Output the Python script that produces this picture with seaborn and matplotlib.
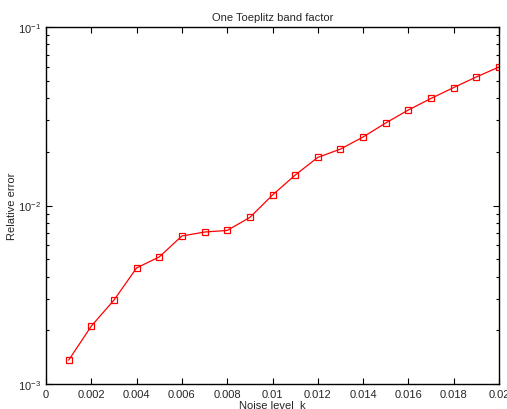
import numpy as np
import pandas as pd
import seaborn as sns
import matplotlib
matplotlib.use('Agg')
import matplotlib.pyplot as plt
from matplotlib.ticker import LogLocator, NullFormatter

# noise level k and the relative error
noise = [0.001, 0.002, 0.003, 0.004, 0.005, 0.006, 0.007, 0.008, 0.009, 0.010,
         0.011, 0.012, 0.013, 0.014, 0.015, 0.016, 0.017, 0.018, 0.019, 0.020]
rel_err = [1.36e-3, 2.11e-3, 2.95e-3, 4.47e-3, 5.15e-3, 6.75e-3, 7.10e-3, 7.25e-3,
           8.57e-3, 1.145e-2, 1.48e-2, 1.86e-2, 2.07e-2, 2.42e-2, 2.90e-2, 3.43e-2,
           3.98e-2, 4.58e-2, 5.25e-2, 5.97e-2]
xticks = [0, 0.002, 0.004, 0.006, 0.008, 0.01, 0.012, 0.014, 0.016, 0.018, 0.02]

df = pd.DataFrame({'k': noise, 'err': rel_err})

sns.set_style('ticks')
plt.rcParams['font.family'] = ['Liberation Sans', 'DejaVu Sans']
plt.rcParams['mathtext.fontset'] = 'custom'
plt.rcParams['mathtext.rm'] = 'Liberation Sans'
plt.rcParams['mathtext.it'] = 'Liberation Sans:italic'

fig = plt.figure(figsize=(5.07, 4.10), dpi=100)
ax = fig.add_axes([46 / 507, 25 / 410, 453 / 507, 357 / 410])

sns.lineplot(data=df, x='k', y='err', ax=ax, color='red', linewidth=0.9,
             marker='s', markersize=5, markerfacecolor='none',
             markeredgecolor='red', markeredgewidth=0.9)

ax.set_yscale('log')
ax.set_ylim(1e-3, 1e-1)
ax.set_xlim(0, 0.02)
ax.set_xticks(xticks)
ax.set_xticklabels(['%g' % t for t in xticks])
ax.yaxis.set_minor_locator(LogLocator(base=10, subs=np.arange(2, 10)))
ax.yaxis.set_minor_formatter(NullFormatter())

for s in ax.spines.values():
    s.set_linewidth(1.0)
    s.set_color('black')
ax.tick_params(which='both', direction='in', top=True, right=True,
               labelsize=8, color='black', width=0.8)
ax.tick_params(which='major', length=4)
ax.tick_params(which='minor', length=2.5)

ax.set_title('One Toeplitz band factor', fontsize=8, pad=5)
ax.set_xlabel('Noise level  k', fontsize=8, labelpad=1)
ax.set_ylabel('Relative error', fontsize=8, labelpad=1)

fig.savefig('out.png', dpi=100)
